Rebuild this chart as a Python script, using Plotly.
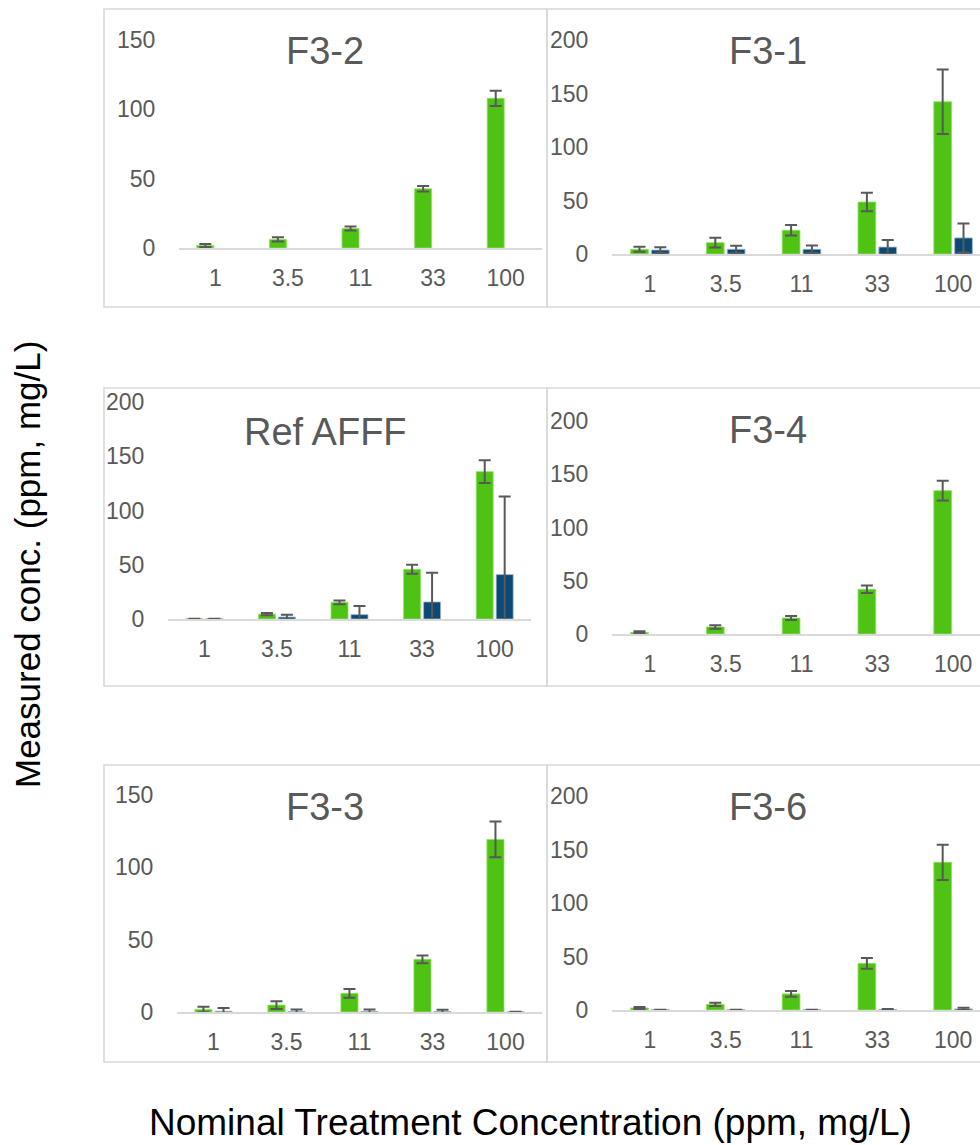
import plotly.graph_objects as go

W, H = 980, 1145

categories = ["1", "3.5", "11", "33", "100"]

panel_titles = ["F3-2", "F3-1", "Ref AFFF", "F3-4", "F3-3", "F3-6"]

# green series (first) values and errors
f32_green = [1.8, 6.2, 14.0, 42.6, 107.7]
f32_green_err = [1.0, 1.5, 1.5, 2.0, 5.5]
f32_blue = [None, None, None, None, None]
f32_blue_err = [0, 0, 0, 0, 0]

f31_green = [4.4, 10.6, 22.2, 48.6, 142.3]
f31_green_err = [2.4, 4.5, 5.0, 8.7, 30.2]
f31_blue = [3.7, 4.4, 4.4, 6.5, 15.0]
f31_blue_err = [2.7, 3.4, 3.5, 6.5, 13.5]

ref_green = [0.3, 4.5, 15.4, 45.8, 135.8]
ref_green_err = [0.0, 1.0, 1.7, 4.2, 10.5]
ref_blue = [0.3, 1.8, 4.0, 15.7, 40.9]
ref_blue_err = [0.0, 2.2, 8.0, 27.0, 72.0]

f34_green = [1.6, 6.6, 15.0, 42.0, 134.6]
f34_green_err = [1.0, 1.7, 1.9, 3.6, 9.3]
f34_blue = [None, None, None, None, None]
f34_blue_err = [0, 0, 0, 0, 0]

f33_green = [1.8, 4.8, 12.9, 36.4, 119.3]
f33_green_err = [1.9, 2.7, 3.0, 2.7, 12.4]
f33_blue = [0.5, 0.3, 0.3, 0.3, 0.2]
f33_blue_err = [2.3, 1.5, 1.5, 1.2, 0.0]

f36_green = [1.9, 5.3, 15.0, 43.6, 138.0]
f36_green_err = [1.0, 1.5, 2.7, 5.0, 16.4]
f36_blue = [0.3, 0.3, 0.3, 0.5, 1.0]
f36_blue_err = [0.0, 0.0, 0.0, 0.5, 1.0]

y_max = [150, 200, 200, 200, 150, 200]
y_ticks = [[0, 50, 100, 150], [0, 50, 100, 150, 200], [0, 50, 100, 150, 200],
           [0, 50, 100, 150, 200], [0, 50, 100, 150], [0, 50, 100, 150, 200]]

panels = [
    (f32_green, f32_green_err, f32_blue, f32_blue_err),
    (f31_green, f31_green_err, f31_blue, f31_blue_err),
    (ref_green, ref_green_err, ref_blue, ref_blue_err),
    (f34_green, f34_green_err, f34_blue, f34_blue_err),
    (f33_green, f33_green_err, f33_blue, f33_blue_err),
    (f36_green, f36_green_err, f36_blue, f36_blue_err),
]

# layout geometry (pixels)
plot_px = [
    (179, 542, 248, 39.5),
    (612, 991, 254, 40),
    (168, 531, 619, 402),
    (612, 991, 634, 421),
    (177, 542, 1012, 795),
    (612, 991, 1010, 796),
]
title_px = [(325, 51), (768, 51), (325, 432), (768, 430), (325, 807), (768, 807)]
box_px = [(104, 9, 547, 307), (547, 9, 995, 307),
          (104, 388, 547, 686), (547, 388, 995, 686),
          (104, 765, 547, 1062), (547, 765, 995, 1062)]

GREEN = "#4EC313"
BLUE = "#0B4A75"
TXT = "#595959"
AX = "#D9D9D9"
FONT = "Liberation Sans, Arial, sans-serif"

fig = go.Figure()
layout = dict()
shapes = []
annotations = []

for i, (g, ge, b, be) in enumerate(panels):
    k = "" if i == 0 else str(i + 1)
    xa, ya = "x" + k, "y" + k
    x0, x1, yz, yt = plot_px[i]
    dx1 = min(x1, W)
    ncat = len(categories)
    catw = (x1 - x0) / ncat
    rng_end = -0.5 + (dx1 - x0) / catw
    err_style = dict(type="data", visible=True, thickness=2, width=6, color=TXT)
    fig.add_trace(go.Bar(x=categories, y=g, xaxis=xa, yaxis=ya, marker_color=GREEN,
                         marker_line=dict(color="#8FE060", width=0.8),
                         error_y=dict(array=ge, **err_style), showlegend=False))
    fig.add_trace(go.Bar(x=categories, y=b, xaxis=xa, yaxis=ya, marker_color=BLUE,
                         marker_line=dict(color="#9DB6CC", width=0.8),
                         error_y=dict(array=be, **err_style), showlegend=False))
    layout["xaxis" + k] = dict(
        domain=[x0 / W, dx1 / W], anchor=ya, type="category", automargin=False,
        range=[-0.5, rng_end], showline=True, linecolor=AX, linewidth=1.6,
        showgrid=False, zeroline=False, ticks="outside", ticklen=9,
        tickcolor="rgba(0,0,0,0)", tickfont=dict(size=23, color=TXT, family=FONT),
        fixedrange=True)
    layout["yaxis" + k] = dict(
        domain=[1 - yz / H, 1 - yt / H], anchor=xa, range=[0, y_max[i]],
        automargin=False,
        tickvals=y_ticks[i], showline=False, showgrid=False, zeroline=False,
        ticks="outside", ticklen=18, tickcolor="rgba(0,0,0,0)",
        tickfont=dict(size=23, color=TXT, family=FONT), fixedrange=True)
    bx0, by0, bx1, by1 = box_px[i]
    shapes.append(dict(type="rect", xref="paper", yref="paper",
                       x0=bx0 / W, x1=bx1 / W, y0=1 - by1 / H, y1=1 - by0 / H,
                       line=dict(color=AX, width=1.6), layer="below"))
    tx, ty = title_px[i]
    annotations.append(dict(text=panel_titles[i], x=tx / W, y=1 - ty / H,
                            xref="paper", yref="paper", showarrow=False,
                            xanchor="center", yanchor="middle",
                            font=dict(size=38, color=TXT, family=FONT)))

annotations.append(dict(text="Nominal Treatment Concentration (ppm, mg/L)",
                        x=530 / W, y=1 - 1122 / H, xref="paper", yref="paper",
                        showarrow=False, xanchor="center", yanchor="middle",
                        font=dict(size=37, color="#000000", family=FONT)))
annotations.append(dict(text="Measured conc. (ppm, mg/L)",
                        x=28 / W, y=1 - 565 / H, xref="paper", yref="paper",
                        showarrow=False, xanchor="center", yanchor="middle",
                        textangle=-90,
                        font=dict(size=35, color="#000000", family=FONT)))

fig.update_layout(
    width=W, height=H, margin=dict(l=0, r=0, t=0, b=0, pad=0, autoexpand=False),
    paper_bgcolor="white", plot_bgcolor="white",
    barmode="group", bargap=0.45, bargroupgap=0.15,
    shapes=shapes, annotations=annotations, showlegend=False,
    font=dict(family=FONT, color=TXT),
    **layout)

fig.write_html("out.html", config={"displayModeBar": False})
